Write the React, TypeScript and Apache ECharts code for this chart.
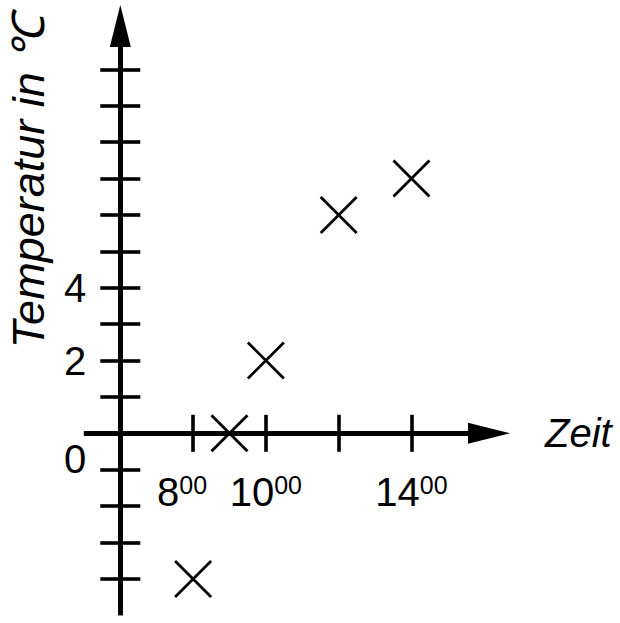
import React, { useEffect, useRef } from "react";
import * as echarts from "echarts";

const hours = [8, 9, 10, 12, 14];
const temps = [-4, 0, 2, 6, 7];
const xTickHours = [8, 10, 12, 14];
const xLabelHours = [8, 10, 14];
const yTickValues = [-4, -3, -2, -1, 0, 1, 2, 3, 4, 5, 6, 7, 8, 9, 10];
const yLabelValues = [0, 2, 4];
const xTitle = "Zeit";
const yTitle = "Temperatur in ℃";

const FONT = '"Liberation Sans", Arial, Helvetica, sans-serif';

export default function App() {
  const ref = useRef<HTMLDivElement>(null);
  useEffect(() => {
    if (!ref.current) return;
    const chart = echarts.init(ref.current, undefined, { renderer: "svg" });
    const lineStyle = { color: "#000", width: 5, cap: "butt" };
    const tickStyle = { color: "#000", width: 3.6 };
    const xRange = { min: 5, max: 16.13 };
    const yRange = { min: -5, max: 11.19 };
    const xLabelRich = {
      b: { fontSize: 40, lineHeight: 40, fontFamily: FONT, color: "#000" },
      s: { fontSize: 25, lineHeight: 27, verticalAlign: "top", fontFamily: FONT, color: "#000" },
      g: { width: 22, fontSize: 25, fontFamily: FONT },
    };
    const yLabelRich = {
      n: { fontSize: 40, lineHeight: 40, fontFamily: FONT, color: "#000" },
      z: { fontSize: 40, lineHeight: 40, fontFamily: FONT, color: "#000", padding: [52, 0, 0, 0] },
    };
    chart.setOption({
      animation: false,
      grid: { left: 83.9, right: 131, top: 26, bottom: 7.7, outerBoundsMode: "none", containLabel: false },
      xAxis: [
        {
          type: "value",
          ...xRange,
          position: "bottom",
          offset: -182,
          axisLine: {
            onZero: false,
            lineStyle,
            symbol: ["none", "triangle"],
            symbolSize: [21, 42],
          },
          axisTick: { show: true, customValues: xTickHours, length: 18.5, inside: false, lineStyle: tickStyle },
          axisLabel: {
            show: true,
            customValues: xLabelHours,
            margin: 39,
            formatter: (v: number) => (v === 8 ? `{b|${v}}{s|00}{g| }` : `{b|${v}}{s|00}`),
            rich: xLabelRich,
          },
          splitLine: { show: false },
          name: xTitle,
          nameLocation: "end",
          nameGap: 56,
          nameTextStyle: { fontSize: 40, fontStyle: "italic", fontFamily: FONT, color: "#000" },
        },
        {
          type: "value",
          ...xRange,
          position: "bottom",
          offset: -182,
          axisLine: { onZero: false, lineStyle },
          axisTick: { show: true, customValues: xTickHours, length: 18.5, inside: true, lineStyle: tickStyle },
          axisLabel: { show: false },
          splitLine: { show: false },
        },
      ],
      yAxis: [
        {
          type: "value",
          ...yRange,
          position: "left",
          offset: -36.4,
          axisLine: {
            onZero: false,
            lineStyle,
            symbol: ["none", "triangle"],
            symbolSize: [21, 42],
          },
          axisTick: { show: true, customValues: yTickValues, length: 20, inside: false, lineStyle: tickStyle },
          axisLabel: {
            show: true,
            customValues: yLabelValues,
            margin: 34,
            formatter: (v: number) => (v === 0 ? `{z|0}` : `{n|${v}}`),
            rich: yLabelRich,
          },
          splitLine: { show: false },
        },
        {
          type: "value",
          ...yRange,
          position: "left",
          offset: -36.4,
          axisLine: { onZero: false, lineStyle },
          axisTick: { show: true, customValues: yTickValues, length: 20, inside: true, lineStyle: tickStyle },
          axisLabel: { show: false },
          splitLine: { show: false },
        },
      ],
      graphic: [
        {
          type: "text",
          x: 28.5,
          y: 181.5,
          rotation: Math.PI / 2,
          style: {
            text: yTitle,
            fontSize: 45,
            fontStyle: "italic",
            fontFamily: FONT,
            fill: "#000",
            align: "center",
            verticalAlign: "middle",
            textAlign: "center",
            textVerticalAlign: "middle",
          },
        },
      ],
      series: [
        {
          type: "scatter",
          xAxisIndex: 0,
          yAxisIndex: 0,
          data: hours.map((h, i) => [h, temps[i]]),
          symbol: "path://M0,0L10,10M10,0L0,10",
          symbolSize: 36,
          itemStyle: { color: "rgba(0,0,0,0)", borderColor: "#000", borderWidth: 2.8, opacity: 1 },
          z: 5,
        },
      ],
    });
    return () => chart.dispose();
  }, []);
  return <div ref={ref} style={{ position: "fixed", left: 0, top: 0, width: 620, height: 623, background: "#fff" }} />;
}
